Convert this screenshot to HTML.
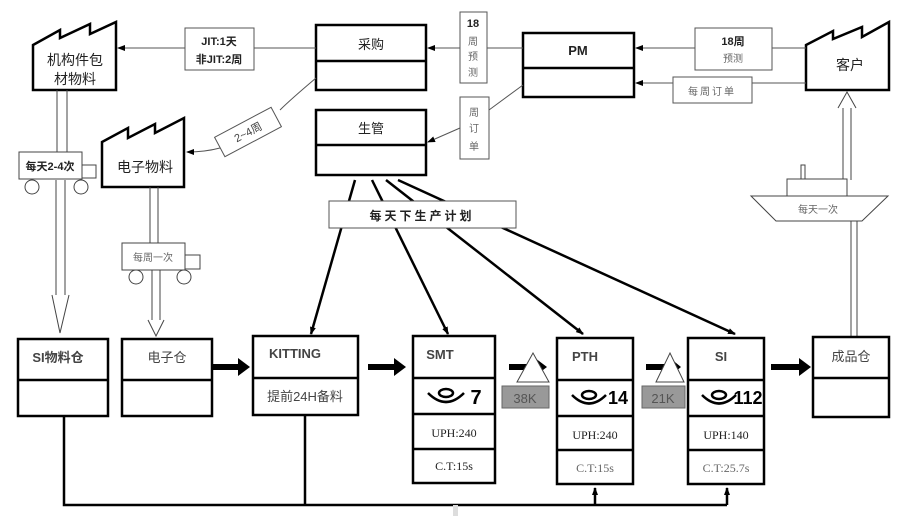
<!DOCTYPE html>
<html><head><meta charset="utf-8"><style>
body{margin:0;background:#fff}
svg{display:block}
text{font-family:"Liberation Sans","Noto Sans CJK SC",sans-serif}
</style></head><body>
<svg width="898" height="516" viewBox="0 0 898 516" xmlns="http://www.w3.org/2000/svg">
<defs>
<marker id="a" markerWidth="8" markerHeight="8" refX="7" refY="4" orient="auto" markerUnits="userSpaceOnUse"><path d="M0,1 L8,4 L0,7z" fill="#000"/></marker>
</defs>
<g fill="none" stroke="#000">
<path d="M33,90 V45 L60,30 V38 L90,24 V34 L116,22 V90 Z" stroke-width="2.5"/>
<path d="M102,187 V142 L128,128 V138 L155,124 V133 L184,118 V187 Z" stroke-width="2.5"/>
<path d="M806,90 V45 L833,31 V39 L862,27 V37 L889,22 V90 Z" stroke-width="2.5"/>
<rect x="316" y="25" width="110" height="65" stroke-width="2.5"/><line x1="316" y1="61" x2="426" y2="61" stroke-width="2.5"/>
<rect x="316" y="110" width="110" height="65" stroke-width="2.5"/><line x1="316" y1="145" x2="426" y2="145" stroke-width="2.5"/>
<rect x="523" y="33" width="111" height="64" stroke-width="2.5"/><line x1="523" y1="68" x2="634" y2="68" stroke-width="2.5"/>
<g stroke="#555" stroke-width="1">
<line x1="316" y1="48" x2="118" y2="48" marker-end="url(#a)"/>
<line x1="523" y1="48" x2="428" y2="48" marker-end="url(#a)"/>
<line x1="806" y1="48" x2="636" y2="48" marker-end="url(#a)"/>
<line x1="806" y1="83" x2="636" y2="83" marker-end="url(#a)"/>
<path d="M523,85 L489,110"/><path d="M460,128 L428,142" marker-end="url(#a)"/>
<path d="M316,78 Q290,100 280,110"/><path d="M220,148 Q205,152 187,152" marker-end="url(#a)"/>
</g>
<g fill="#fff" stroke="#555">
<rect x="185" y="28" width="69" height="42"/>
<rect x="460" y="12" width="27" height="71"/>
<rect x="460" y="97" width="29" height="62"/>
<rect x="695" y="28" width="77" height="42"/>
<rect x="673" y="77" width="79" height="26"/>
<rect x="-32" y="-11" width="64" height="22" transform="translate(248,132) rotate(-28)"/>
</g>
<g stroke-width="2.5">
<line x1="355" y1="180" x2="311" y2="334" marker-end="url(#a)"/>
<line x1="372" y1="180" x2="448" y2="334" marker-end="url(#a)"/>
<line x1="386" y1="180" x2="583" y2="334" marker-end="url(#a)"/>
<line x1="398" y1="180" x2="735" y2="334" marker-end="url(#a)"/>
</g>
<rect x="329" y="201" width="187" height="27" fill="#fff" stroke="#555"/>
<g stroke="#444" stroke-width="1">
<line x1="57" y1="90" x2="57" y2="152"/><line x1="67" y1="90" x2="67" y2="152"/>
<line x1="56" y1="180" x2="56" y2="295"/><line x1="65" y1="180" x2="65" y2="295"/>
<path d="M52,295 L60,333 L69,295" fill="#fff"/>
<line x1="150" y1="187" x2="150" y2="243"/><line x1="158" y1="187" x2="158" y2="243"/>
<line x1="152" y1="269" x2="152" y2="320"/><line x1="160" y1="269" x2="160" y2="320"/>
<path d="M148,320 L156,336 L164,320" fill="#fff"/>
<line x1="843" y1="108" x2="843" y2="180"/><line x1="851" y1="108" x2="851" y2="180"/>
<path d="M838,108 L847,92 L856,108" fill="#fff"/>
<line x1="851" y1="220" x2="851" y2="336"/><line x1="857" y1="220" x2="857" y2="336"/>
</g>
<g stroke="#444" fill="#fff">
<rect x="19" y="152" width="63" height="27"/><rect x="82" y="165" width="14" height="13"/>
<circle cx="32" cy="187" r="7"/><circle cx="81" cy="187" r="7"/>
<rect x="122" y="243" width="63" height="27"/><rect x="185" y="255" width="15" height="14"/>
<circle cx="136" cy="277" r="7"/><circle cx="184" cy="277" r="7"/>
<rect x="787" y="179" width="60" height="17"/><rect x="801" y="165" width="4" height="14"/>
<path d="M751,196 L888,196 L862,221 L776,221 Z"/>
</g>
<g stroke-width="2.5">
<rect x="18" y="339" width="90" height="77"/><line x1="18" y1="380" x2="108" y2="380"/>
<rect x="122" y="339" width="90" height="77"/><line x1="122" y1="380" x2="212" y2="380"/>
<rect x="253" y="336" width="105" height="79"/><line x1="253" y1="378" x2="358" y2="378"/>
<rect x="413" y="336" width="82" height="147"/><line x1="413" y1="378" x2="495" y2="378"/><line x1="413" y1="414" x2="495" y2="414"/><line x1="413" y1="449" x2="495" y2="449"/>
<rect x="557" y="338" width="76" height="146"/><line x1="557" y1="380" x2="633" y2="380"/><line x1="557" y1="416" x2="633" y2="416"/><line x1="557" y1="450" x2="633" y2="450"/>
<rect x="688" y="338" width="76" height="146"/><line x1="688" y1="380" x2="764" y2="380"/><line x1="688" y1="416" x2="764" y2="416"/><line x1="688" y1="450" x2="764" y2="450"/>
<rect x="813" y="337" width="76" height="80"/><line x1="813" y1="378" x2="889" y2="378"/>
<polyline points="64,416 64,505 727,505" />
<line x1="305" y1="415" x2="305" y2="505"/>
<line x1="595" y1="505" x2="595" y2="488" marker-end="url(#a)"/>
<line x1="727" y1="505" x2="727" y2="488" marker-end="url(#a)"/>
</g>
</g>
<rect x="453" y="505" width="5" height="11" fill="#ddd"/>
<g fill="#000">
<path d="M212,364 h26 v-6 l12,9 l-12,9 v-6 h-26z"/>
<path d="M368,364 h26 v-6 l12,9 l-12,9 v-6 h-26z"/>
<path d="M509,364 h26 v-6 l12,9 l-12,9 v-6 h-26z"/>
<path d="M646,364 h24 v-6 l11,9 l-11,9 v-6 h-24z"/>
<path d="M771,364 h28 v-6 l12,9 l-12,9 v-6 h-28z"/>
</g>
<g fill="#fff" stroke="#444">
<path d="M517,382 L533,353 L549,382 Z"/>
<path d="M656,382 L670,353 L684,382 Z"/>
</g>
<g fill="#999" stroke="#666">
<rect x="502" y="386" width="47" height="22"/><rect x="642" y="386" width="43" height="22"/>
</g>
<g fill="none" stroke="#000" stroke-width="2.5">
<path d="M428,393 q18,18 36,0"/><ellipse cx="446" cy="393" rx="7" ry="4"/>
<path d="M572,395 q17,17 34,0"/><ellipse cx="589" cy="395" rx="7" ry="4"/>
<path d="M702,395 q17,17 34,0"/><ellipse cx="719" cy="395" rx="7" ry="4"/>
</g>
<g font-size="14" text-anchor="middle" fill="#222">
<text x="75" y="65">机构件包</text><text x="75" y="84">材物料</text>
<text x="145" y="172">电子物料</text>
<text x="850" y="70">客户</text>
<text x="371" y="49" font-size="13">采购</text>
<text x="371" y="133" font-size="13">生管</text>
<text x="578" y="55" font-weight="bold" font-size="13">PM</text>
<text x="219" y="45" font-size="11" font-weight="bold">JIT:1天</text>
<text x="219" y="63" font-size="11" font-weight="bold">非JIT:2周</text>
<text x="473" y="27" font-size="11" font-weight="bold">18</text>
<text x="473" y="45" font-size="10" fill="#666">周</text><text x="473" y="60" font-size="10" fill="#666">预</text><text x="473" y="76" font-size="10" fill="#666">测</text>
<text x="474" y="116" font-size="10" fill="#666">周</text><text x="474" y="132" font-size="10" fill="#666">订</text><text x="474" y="150" font-size="10" fill="#666">单</text>
<text x="733" y="45" font-size="11" font-weight="bold">18周</text>
<text x="733" y="62" font-size="10" fill="#666">预测</text>
<text x="712" y="95" font-size="10" fill="#666" letter-spacing="2">每周订单</text>
<text x="248" y="136" font-size="11" fill="#444" transform="rotate(-28 248 132)">2~4周</text>
<text x="422" y="220" font-size="12" font-weight="bold" letter-spacing="3">每天下生产计划</text>
<text x="50" y="170" font-size="11" font-weight="bold">每天2-4次</text>
<text x="153" y="261" font-size="10" fill="#666">每周一次</text>
<text x="818" y="213" font-size="10" fill="#666">每天一次</text>
<text x="58" y="362" font-size="13" font-weight="bold" fill="#444">SI物料仓</text>
<text x="167" y="362" font-size="13" fill="#444">电子仓</text>
<text x="295" y="358" font-size="13" font-weight="bold" fill="#444">KITTING</text>
<text x="305" y="401" font-size="13" fill="#444">提前24H备料</text>
<text x="440" y="359" font-size="13" font-weight="bold" fill="#444">SMT</text>
<text x="585" y="361" font-size="13" font-weight="bold" fill="#444">PTH</text>
<text x="721" y="361" font-size="13" font-weight="bold" fill="#444">SI</text>
<text x="851" y="361" font-size="13" fill="#444">成品仓</text>
<text x="476" y="404" font-size="20" font-weight="bold" fill="#000">7</text>
<text x="618" y="404" font-size="18" font-weight="bold" fill="#000">14</text>
<text x="748" y="404" font-size="18" font-weight="bold" fill="#000">112</text>
<text x="525" y="403" font-size="13" fill="#555">38K</text>
<text x="663" y="403" font-size="13" fill="#555">21K</text>
<g style="font-family:'Liberation Serif',serif" font-size="12">
<text style="font-family:'Liberation Serif',serif" x="454" y="437">UPH:240</text><text style="font-family:'Liberation Serif',serif" x="454" y="470">C.T:15s</text>
<text style="font-family:'Liberation Serif',serif" x="595" y="439">UPH:240</text><text style="font-family:'Liberation Serif',serif" x="595" y="472" fill="#666">C.T:15s</text>
<text style="font-family:'Liberation Serif',serif" x="726" y="439">UPH:140</text><text style="font-family:'Liberation Serif',serif" x="726" y="472" fill="#666">C.T:25.7s</text>
</g>
</g>
</svg>
</body></html>
